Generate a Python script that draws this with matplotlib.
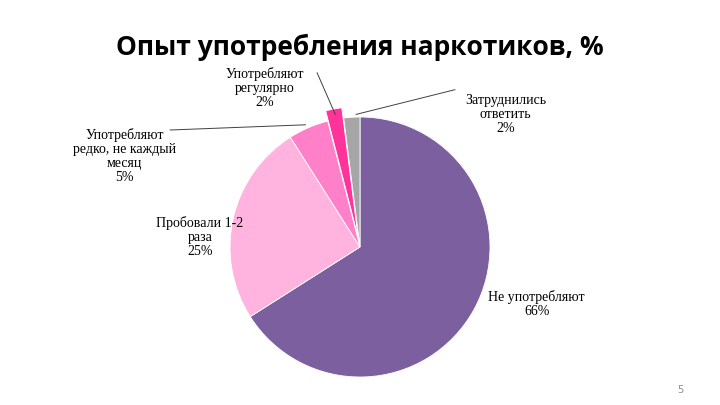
import matplotlib
matplotlib.use('Agg')
import matplotlib.pyplot as plt

labels = ['Не употребляют\n66%', 'Пробовали 1-2\nраза\n25%',
          'Употребляют\nредко, не каждый\nмесяц\n5%',
          'Употребляют\nрегулярно\n2%', 'Затруднились\nответить\n2%']
values = [66, 25, 5, 2, 2]
colors = ['#7B5F9E', '#FFB3DE', '#FF80C8', '#FF3399', '#A6A6A6']
explode = [0, 0, 0, 0.08, 0]

fig = plt.figure(figsize=(7.2, 4.05), dpi=100)
fig.text(0.5, 0.865, 'Опыт употребления наркотиков, %', ha='center',
         fontsize=19, fontweight='bold', family='Open Sans')
fig.text(0.94, 0.03, '5', fontsize=7, color='#8c8c8c')

ax = fig.add_axes([230/720, 28/405, 260/720, 260/405])
ax.pie(values, colors=colors, explode=explode, startangle=90,
       counterclock=False, radius=1.0,
       wedgeprops=dict(linewidth=0.6, edgecolor='white'))
ax.set_xlim(-1, 1); ax.set_ylim(-1, 1)
ax.set_aspect('equal')

tkw = dict(ha='center', va='center', fontsize=10, family='Liberation Serif',
           linespacing=1.1)
pos = [(1.36, -0.44), (-1.23, 0.08), (-1.81, 0.70), (-0.73, 1.22), (1.12, 1.02)]
for lab, (x, y) in zip(labels, pos):
    ax.text(x, y, lab, clip_on=False, **tkw)

lkw = dict(color='#404040', lw=0.7, clip_on=False)
ax.plot([-1.46, -0.42], [0.90, 0.94], **lkw)
ax.plot([-0.33, -0.19], [1.34, 1.02], **lkw)
ax.plot([0.73, -0.03], [1.21, 1.02], **lkw)

fig.savefig('out.png', dpi=100)
